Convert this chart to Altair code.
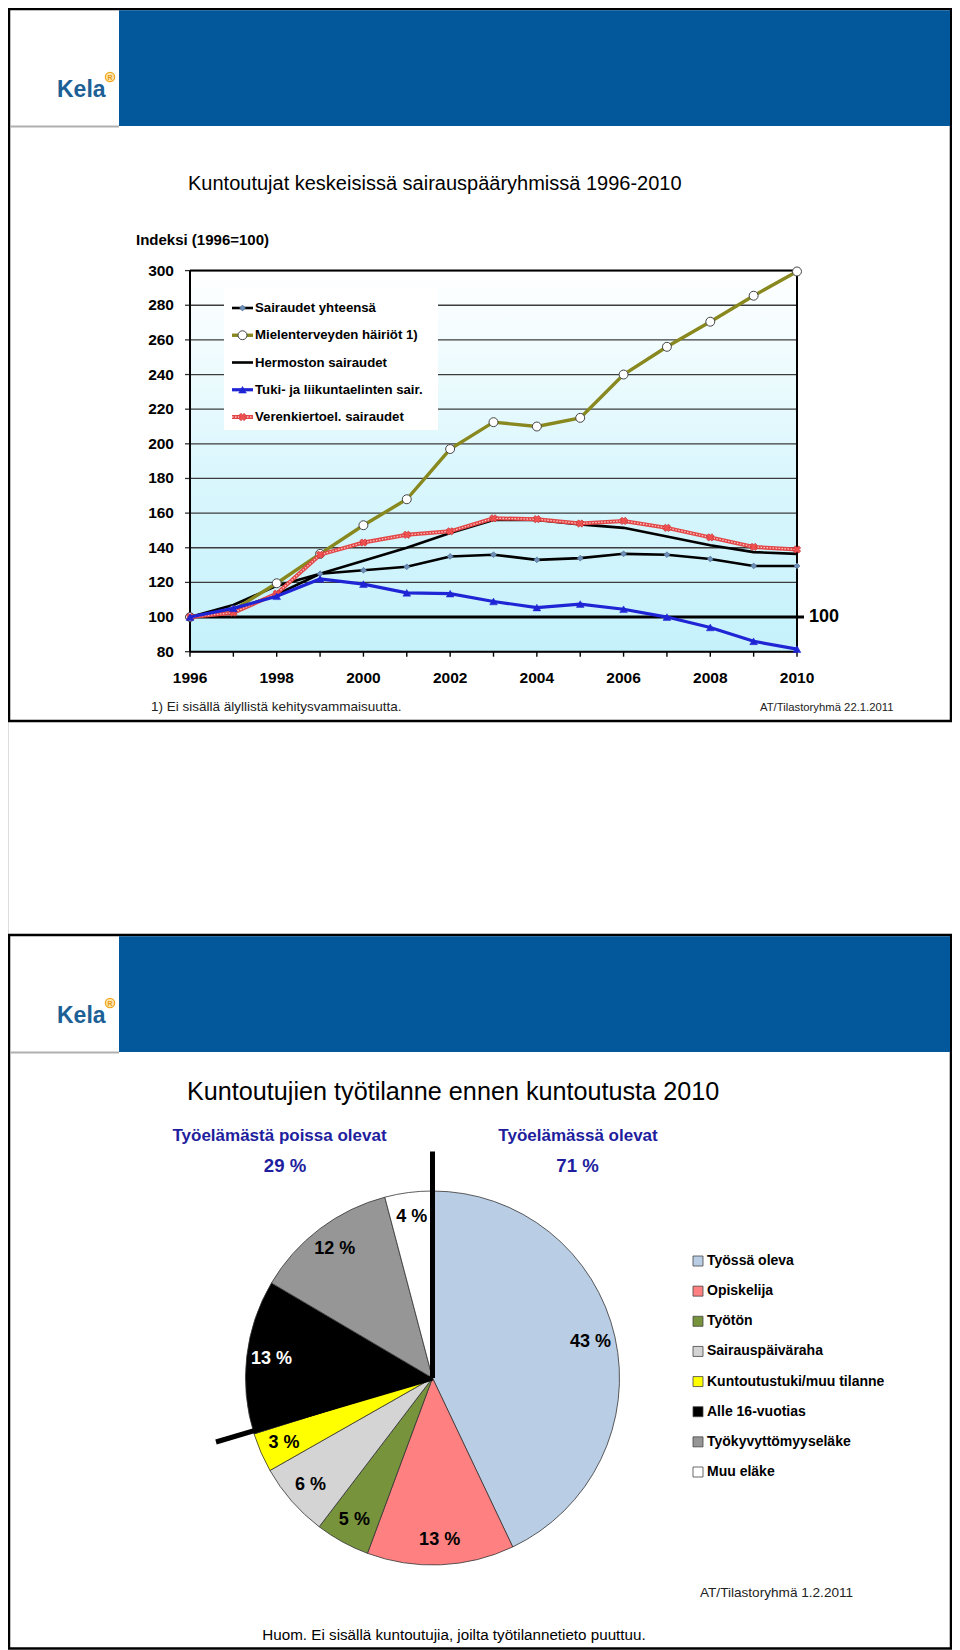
import altair as alt
import pandas as pd

# ---------------- data ----------------
years = list(range(1996, 2011))
x_label_years = [1996, 1998, 2000, 2002, 2004, 2006, 2008, 2010]
series_names = [
    "Sairaudet yhteensä",
    "Mielenterveyden häiriöt 1)",
    "Hermoston sairaudet",
    "Tuki- ja liikuntaelinten sair.",
    "Verenkiertoel. sairaudet",
]
sairaudet_yhteensa = [100, 104, 113, 125, 127, 129, 135, 136, 133, 134, 136.5, 136, 133.5, 129.5, 129.5]
mielenterveys = [100, 104, 119.5, 136.5, 153, 168, 197, 212.5, 210, 215, 240, 256, 270.5, 285.5, 299.5]
hermosto = [100, 107, 118, 125, 132.5, 140, 148.5, 156, 156, 153.5, 151.5, 146.5, 141.5, 137.5, 136.5]
tuki_liikunta = [100, 105, 112, 122, 119, 114, 113.5, 109, 105.5, 107.5, 104.5, 100, 94, 86, 81.5]
verenkierto = [100, 102.5, 113.5, 136, 143, 147.5, 149.5, 157, 156.5, 154, 155.5, 151.5, 146, 140.5, 139]
index_ticks = [80, 100, 120, 140, 160, 180, 200, 220, 240, 260, 280, 300]
reference_level = 100

pie_categories = [
    "Työssä oleva",
    "Opiskelija",
    "Työtön",
    "Sairauspäiväraha",
    "Kuntoutustuki/muu tilanne",
    "Alle 16-vuotias",
    "Työkyvyttömyyseläke",
    "Muu eläke",
]
pie_shares = [42.9, 12.7, 4.7, 6.4, 3.4, 13.3, 12.4, 4.1]
pie_labels = ["43 %", "13 %", "5 %", "6 %", "3 %", "13 %", "12 %", "4 %"]

# ---------------- layout / style ----------------
W, H = 944, 1642
SANS = "Liberation Sans, Arial, sans-serif"
PX0, PX1 = 182, 789
PY_BOT, PY_TOP = 643.7, 262.6
S1_TOP, S1_BOT = 1, 713
S2_TOP, S2_BOT = 927, 1640.5
CX, CY, R = 424.5, 1370, 187
BAND = "#03579b"

pie_colors = ["#b9cde5", "#ff8080", "#77933c", "#d4d4d4", "#ffff00", "#000000", "#969696", "#ffffff"]

styles = {
    "Sairaudet yhteensä": dict(line=dict(color="black", strokeWidth=2.6),
                               point=dict(shape="diamond", size=34, fill="#6f90b8", stroke="#56779f", strokeWidth=0.8)),
    "Mielenterveyden häiriöt 1)": dict(line=dict(color="#88881e", strokeWidth=3.4),
                                       point=dict(shape="circle", size=80, fill="white", stroke="#444444", strokeWidth=1)),
    "Hermoston sairaudet": dict(line=dict(color="black", strokeWidth=2.6), point=None),
    "Tuki- ja liikuntaelinten sair.": dict(line=dict(color="#1f24d4", strokeWidth=3.2),
                                           point=dict(shape="triangle-up", size=60, fill="#1f24d4", stroke="#1f24d4", strokeWidth=0.5)),
    "Verenkiertoel. sairaudet": dict(line=dict(color="#e24646", strokeWidth=4),
                                     point=dict(shape="cross", size=55, fill="#f05050", stroke="#c02828", strokeWidth=0.6, angle=45),
                                     overlay=dict(color="#ffc4c4", strokeWidth=1.3, strokeDash=[1.5, 1.5])),
}
draw_order = ["Hermoston sairaudet", "Sairaudet yhteensä", "Mielenterveyden häiriöt 1)",
              "Verenkiertoel. sairaudet", "Tuki- ja liikuntaelinten sair."]
series_values = dict(zip(series_names, [sairaudet_yhteensa, mielenterveys, hermosto, tuki_liikunta, verenkierto]))

XS = alt.Scale(domain=[years[0], years[-1]], range=[PX0, PX1], nice=False, zero=False)
YS = alt.Scale(domain=[index_ticks[0], index_ticks[-1]], range=[PY_BOT, PY_TOP], nice=False, zero=False)

one = pd.DataFrame({"k": [0]})


def box(x, x2, y, y2, **kw):
    return alt.Chart(one).mark_rect(**kw).encode(
        x=alt.value(x), x2=alt.value(x2), y=alt.value(y), y2=alt.value(y2))


def txt(s, x, y, **kw):
    kw.setdefault("align", "left")
    kw.setdefault("baseline", "middle")
    return alt.Chart(one).mark_text(text=s, **kw).encode(x=alt.value(x), y=alt.value(y))


def rule(x, y, x2=None, y2=None, **kw):
    enc = dict(x=alt.value(x), y=alt.value(y))
    if x2 is not None:
        enc["x2"] = alt.value(x2)
    if y2 is not None:
        enc["y2"] = alt.value(y2)
    return alt.Chart(one).mark_rule(**kw).encode(**enc)


layers = []

# ---------------- slide frames ----------------
for top, bot in [(S1_TOP, S1_BOT), (S2_TOP, S2_BOT)]:
    layers.append(box(1, 943, top, bot, fill="white", stroke="black", strokeWidth=2.5))
    layers.append(box(111, 942, top + 1.2, top + 117, color=BAND))
    layers.append(rule(2, top + 117.5, x2=111, color="#b0b0b0", strokeWidth=2))
    layers.append(txt("Kela", 49, top + 81, font=SANS, fontSize=23, fontWeight="bold", color="#1d6096"))
    layers.append(alt.Chart(one).mark_point(shape="circle", size=85, fill="#fde7b0", stroke="#f0a820",
                                            strokeWidth=1.3, opacity=1)
                  .encode(x=alt.value(102), y=alt.value(top + 68)))
    layers.append(txt("R", 102, top + 68.5, align="center", font=SANS, fontSize=7, fontWeight="bold",
                      color="#e89a10"))

# ---------------- slide 1: line chart ----------------
layers.append(txt("Kuntoutujat keskeisissä sairauspääryhmissä 1996-2010", 180, 176,
                  font=SANS, fontSize=20, color="black"))
layers.append(txt("Indeksi (1996=100)", 128, 232, font=SANS, fontSize=15, fontWeight="bold", color="black"))

frame_df = pd.DataFrame({"x0": [years[0]], "x1": [years[-1]], "y0": [index_ticks[0]], "y1": [index_ticks[-1]]})
gradient = {"gradient": "linear", "x1": 0, "y1": 0, "x2": 0, "y2": 1,
            "stops": [{"offset": 0, "color": "#ffffff"},
                      {"offset": 0.5, "color": "#dcf7fd"},
                      {"offset": 1, "color": "#c5f1fb"}]}
layers.append(alt.Chart(frame_df).mark_rect(fill=gradient).encode(
    x=alt.X("x0:Q", scale=XS, axis=None), x2="x1:Q",
    y=alt.Y("y0:Q", scale=YS, axis=None), y2="y1:Q"))

# gridlines
grid_df = pd.DataFrame({"v": index_ticks, "x0": years[0], "x1": years[-1]})
layers.append(alt.Chart(grid_df).mark_rule(color="#3c3c3c", strokeWidth=1.3).encode(
    x=alt.X("x0:Q", scale=XS, axis=None), x2="x1:Q",
    y=alt.Y("v:Q", scale=YS, axis=None)))

# y axis: ticks + labels
layers.append(alt.Chart(grid_df).mark_rule(color="#333333", strokeWidth=1.3).encode(
    x=alt.value(PX0 - 5), x2=alt.value(PX0), y=alt.Y("v:Q", scale=YS, axis=None)))
layers.append(alt.Chart(grid_df).mark_text(align="right", baseline="middle", font=SANS, fontSize=15.5,
                                           fontWeight="bold", color="black").encode(
    x=alt.value(PX0 - 16), y=alt.Y("v:Q", scale=YS, axis=None), text=alt.Text("v:Q", format="d")))

# x axis: ticks + labels
yr_df = pd.DataFrame({"year": years})
layers.append(alt.Chart(yr_df).mark_rule(color="black", strokeWidth=1.4).encode(
    x=alt.X("year:Q", scale=XS, axis=None), y=alt.value(PY_BOT), y2=alt.value(PY_BOT + 5)))
layers.append(alt.Chart(pd.DataFrame({"year": x_label_years})).mark_text(
    align="center", baseline="middle", font=SANS, fontSize=15.5, fontWeight="bold", color="black").encode(
    x=alt.X("year:Q", scale=XS, axis=None), y=alt.value(670), text=alt.Text("year:Q", format="d")))

# legend box
layers.append(box(216, 430, 280, 422, fill="white"))

# frame lines: top (300), bottom axis, right (2010), left axis
layers.append(alt.Chart(frame_df).mark_rule(color="black", strokeWidth=2).encode(
    x=alt.X("x0:Q", scale=XS, axis=None), x2="x1:Q", y=alt.Y("y1:Q", scale=YS, axis=None)))
layers.append(alt.Chart(frame_df).mark_rule(color="black", strokeWidth=2).encode(
    x=alt.X("x0:Q", scale=XS, axis=None), x2="x1:Q", y=alt.Y("y0:Q", scale=YS, axis=None)))
layers.append(alt.Chart(frame_df).mark_rule(color="black", strokeWidth=2).encode(
    x=alt.X("x1:Q", scale=XS, axis=None), y=alt.Y("y0:Q", scale=YS, axis=None), y2="y1:Q"))
layers.append(alt.Chart(frame_df).mark_rule(color="black", strokeWidth=2).encode(
    x=alt.X("x0:Q", scale=XS, axis=None), y=alt.Y("y0:Q", scale=YS, axis=None), y2="y1:Q"))

# reference line at 100
ref_df = pd.DataFrame({"x0": [years[0]], "v": [reference_level]})
layers.append(alt.Chart(ref_df).mark_rule(color="black", strokeWidth=3).encode(
    x=alt.X("x0:Q", scale=XS, axis=None), x2=alt.value(796), y=alt.Y("v:Q", scale=YS, axis=None)))
layers.append(alt.Chart(ref_df).mark_text(align="left", baseline="middle", font=SANS, fontSize=18,
                                          fontWeight="bold", color="black").encode(
    x=alt.value(801), y=alt.Y("v:Q", scale=YS, axis=None), text=alt.Text("v:Q", format="d")))

# series
for name in draw_order:
    st = styles[name]
    d = pd.DataFrame({"year": years, "value": series_values[name]})
    enc = dict(x=alt.X("year:Q", scale=XS, axis=None), y=alt.Y("value:Q", scale=YS, axis=None))
    layers.append(alt.Chart(d).mark_line(**st["line"]).encode(**enc))
    if "overlay" in st:
        layers.append(alt.Chart(d).mark_line(**st["overlay"]).encode(**enc))
    if st["point"]:
        layers.append(alt.Chart(d).mark_point(opacity=1, **st["point"]).encode(**enc))

# manual legend of the line chart
LY = alt.Scale(type="point", domain=series_names, range=[300, 409], padding=0)
for name in series_names:
    st = styles[name]
    ld = pd.DataFrame({"series": [name]})
    ly = alt.Y("series:N", scale=LY, axis=None)
    layers.append(alt.Chart(ld).mark_rule(**st["line"]).encode(x=alt.value(224), x2=alt.value(245), y=ly))
    if "overlay" in st:
        layers.append(alt.Chart(ld).mark_rule(**st["overlay"]).encode(x=alt.value(224), x2=alt.value(245), y=ly))
    if st["point"]:
        layers.append(alt.Chart(ld).mark_point(opacity=1, **st["point"]).encode(x=alt.value(234.5), y=ly))
layers.append(alt.Chart(pd.DataFrame({"series": series_names})).mark_text(
    align="left", baseline="middle", font=SANS, fontSize=13.2, fontWeight="bold", color="black").encode(
    x=alt.value(247), y=alt.Y("series:N", scale=LY, axis=None), text="series:N"))

layers.append(txt("1) Ei sisällä älyllistä kehitysvammaisuutta.", 143, 699, font=SANS, fontSize=13.5, color="#222222"))
layers.append(txt("AT/Tilastoryhmä 22.1.2011", 752, 700, font=SANS, fontSize=11.3, color="#222222"))

# ---------------- slide 2: pie ----------------
HEAD = "#1e1e9e"
layers.append(txt("Kuntoutujien työtilanne ennen kuntoutusta 2010", 179, 1084, font=SANS, fontSize=25.2, color="black"))
layers.append(txt("Työelämästä poissa olevat", 271.5, 1128, align="center", font=SANS, fontSize=17,
                  fontWeight="bold", color=HEAD))
layers.append(txt("29 %", 277, 1158, align="center", font=SANS, fontSize=18.6, fontWeight="bold", color=HEAD))
layers.append(txt("Työelämässä olevat", 570, 1128, align="center", font=SANS, fontSize=17,
                  fontWeight="bold", color=HEAD))
layers.append(txt("71 %", 569.5, 1158, align="center", font=SANS, fontSize=18.6, fontWeight="bold", color=HEAD))

pie_df = pd.DataFrame({"category": pie_categories, "share": pie_shares, "label": pie_labels,
                       "idx": list(range(len(pie_categories)))})
pie_color = alt.Color("category:N", scale=alt.Scale(domain=pie_categories, range=pie_colors), legend=None)
layers.append(alt.Chart(pie_df).mark_arc(stroke="#333333", strokeWidth=0.8).encode(
    theta=alt.Theta("share:Q", stack=True), order=alt.Order("idx:Q"), color=pie_color,
    x=alt.value(CX), y=alt.value(CY), radius=alt.value(R)))
layers.append(alt.Chart(pie_df).mark_text(radius=162, font=SANS, fontSize=18, fontWeight="bold").encode(
    theta=alt.Theta("share:Q", stack=True), order=alt.Order("idx:Q"), text="label:N",
    x=alt.value(CX), y=alt.value(CY),
    color=alt.condition(alt.datum.category == "Alle 16-vuotias", alt.value("white"), alt.value("black"))))

# divider lines
layers.append(rule(CX, 1143.5, x2=CX, y2=CY, color="black", strokeWidth=5))
layers.append(rule(CX, CY, x2=208, y2=1434, color="black", strokeWidth=5))

# pie legend
PLY = alt.Scale(type="point", domain=pie_categories, range=[1253, 1464], padding=0)
layers.append(alt.Chart(pie_df).mark_square(size=100, stroke="#444444", strokeWidth=0.8, opacity=1).encode(
    x=alt.value(690), y=alt.Y("category:N", scale=PLY, axis=None), color=pie_color))
layers.append(alt.Chart(pie_df).mark_text(align="left", baseline="middle", font=SANS, fontSize=14,
                                          fontWeight="bold", color="black").encode(
    x=alt.value(699), y=alt.Y("category:N", scale=PLY, axis=None), text="category:N"))

layers.append(txt("AT/Tilastoryhmä  1.2.2011", 692, 1585, font=SANS, fontSize=13.6, color="#222222"))
layers.append(txt("Huom. Ei sisällä kuntoutujia, joilta työtilannetieto puuttuu.", 446, 1627,
                  align="center", font=SANS, fontSize=15.2, color="black"))

chart = alt.layer(*layers).resolve_scale(x="independent", y="independent").properties(
    width=W, height=H, autosize=alt.AutoSizeParams(type="none"), padding=0
).configure_view(stroke=None).configure(background="white")

chart.save("out.html", embed_options={"renderer": "svg", "actions": False})
